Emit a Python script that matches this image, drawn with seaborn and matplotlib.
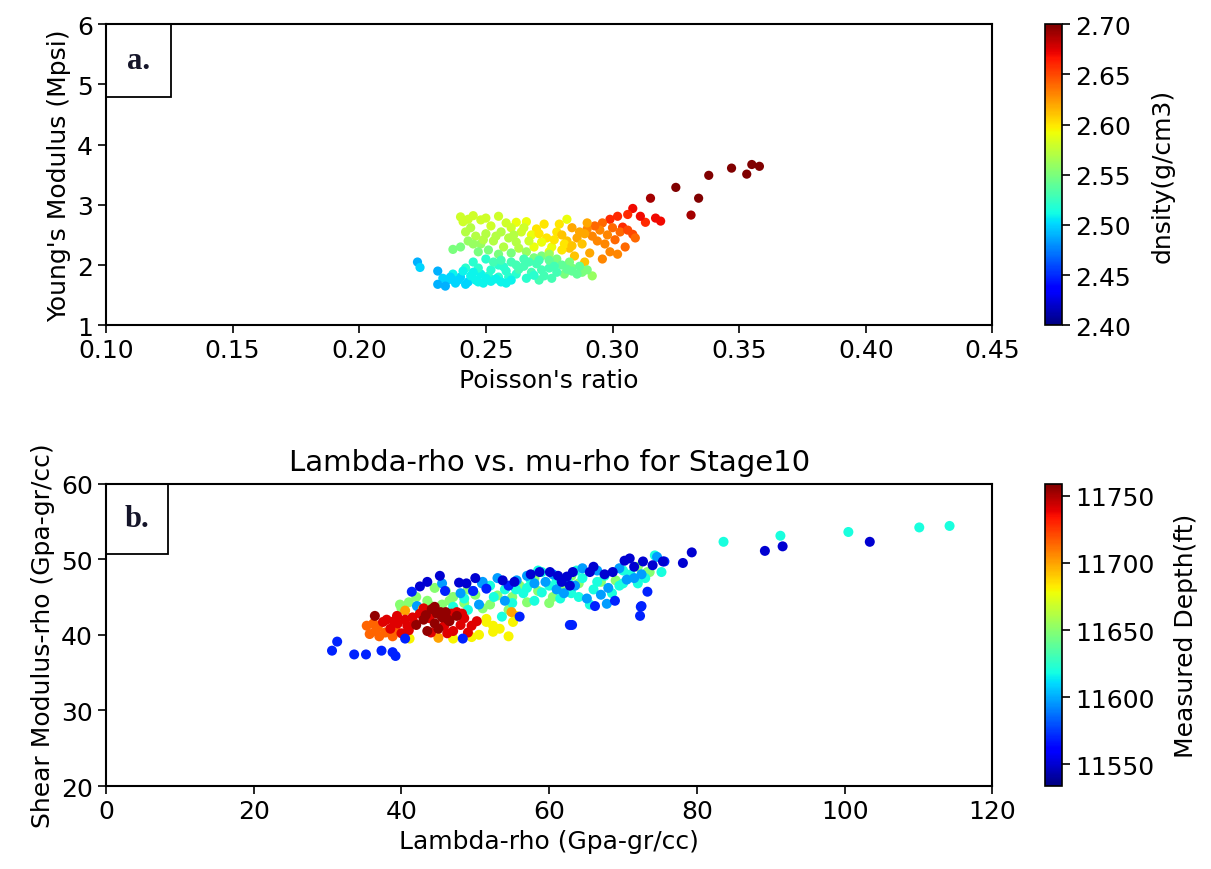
import matplotlib
matplotlib.use("Agg")
import matplotlib.pyplot as plt
import matplotlib.patches as mpatches
import numpy as np
import pandas as pd
import seaborn as sns

# ---------------- Panel a data: Poisson's ratio, Young's modulus, density ----------------
pr_a = [0.358, 0.355, 0.353, 0.347, 0.338, 0.334, 0.331, 0.325, 0.315,
        0.319, 0.317, 0.313, 0.311, 0.308, 0.306, 0.302, 0.299, 0.308, 0.304,
        0.296, 0.300, 0.303, 0.298, 0.301, 0.295, 0.293, 0.290, 0.292, 0.297, 0.305, 0.299, 0.294, 0.289, 0.306, 0.309, 0.302, 0.296,
        0.284, 0.286, 0.288, 0.283, 0.287, 0.285, 0.289, 0.291, 0.282, 0.290,
        0.270, 0.274, 0.278, 0.281, 0.276, 0.272, 0.268, 0.279, 0.282, 0.266, 0.262, 0.275, 0.280,
        0.271, 0.277, 0.273, 0.280, 0.284, 0.269,
        0.240, 0.243, 0.245, 0.248, 0.255, 0.242, 0.246, 0.250, 0.253, 0.256, 0.259, 0.262, 0.264, 0.260, 0.252, 0.257, 0.248, 0.263, 0.267, 0.244,
        0.241, 0.250, 0.258, 0.254, 0.249, 0.261, 0.245, 0.265,
        0.237, 0.240, 0.243, 0.247, 0.251, 0.255, 0.260, 0.266, 0.272, 0.278, 0.284, 0.288, 0.292, 0.281,
        0.275, 0.283, 0.269, 0.290,
        0.245, 0.250, 0.255, 0.260, 0.265, 0.270, 0.275, 0.280, 0.258, 0.262, 0.268, 0.273, 0.278, 0.284, 0.252, 0.248, 0.255, 0.266, 0.271, 0.276, 0.242, 0.287, 0.265, 0.275,
        0.247, 0.253, 0.257, 0.263, 0.267, 0.272, 0.277, 0.282, 0.286, 0.269, 0.259, 0.251, 0.262, 0.256, 0.271,
        0.235, 0.238, 0.240, 0.243, 0.246, 0.249, 0.252, 0.237, 0.241, 0.244, 0.250, 0.256, 0.260, 0.233,
        0.239, 0.242, 0.247, 0.254, 0.258, 0.245, 0.236,
        0.223, 0.224, 0.231, 0.231, 0.234]
ym_a = [3.64, 3.67, 3.51, 3.61, 3.49, 3.11, 2.83, 3.29, 3.11,
        2.73, 2.78, 2.71, 2.81, 2.94, 2.84, 2.81, 2.76, 2.51, 2.63,
        2.70, 2.62, 2.55, 2.50, 2.42, 2.58, 2.65, 2.60, 2.48, 2.35, 2.30, 2.22, 2.40, 2.52, 2.58, 2.45, 2.18, 2.10,
        2.62, 2.45, 2.35, 2.28, 2.55, 2.15, 2.05, 2.20, 2.40, 2.70,
        2.60, 2.45, 2.55, 2.35, 2.30, 2.38, 2.50, 2.68, 2.76, 2.72, 2.71, 2.22, 2.25,
        2.52, 2.42, 2.68, 2.50, 2.32, 2.30,
        2.80, 2.76, 2.82, 2.75, 2.81, 2.55, 2.48, 2.52, 2.40, 2.55, 2.45, 2.38, 2.55, 2.62, 2.65, 2.30, 2.35, 2.28, 2.40, 2.62,
        2.72, 2.78, 2.70, 2.48, 2.42, 2.50, 2.35, 2.62,
        2.26, 2.30, 2.40, 2.22, 2.25, 2.18, 2.20, 2.22, 2.15, 2.10, 1.95, 1.88, 1.82, 1.85,
        2.18, 2.05, 2.12, 1.92,
        2.05, 2.10, 2.00, 2.05, 1.98, 2.02, 1.95, 2.00, 1.90, 1.85, 1.88, 1.82, 1.88, 1.90, 1.92, 1.85, 1.80, 1.78, 1.75, 1.78, 1.95, 1.98, 2.10, 2.08,
        1.95, 2.05, 1.97, 1.93, 2.05, 1.92, 1.98, 1.93, 1.85, 1.83, 1.80, 1.82, 2.00, 2.08, 2.08,
        1.75, 1.70, 1.80, 1.72, 1.75, 1.70, 1.73, 1.85, 1.90, 1.82, 1.78, 1.72, 1.75, 1.78,
        1.75, 1.68, 1.72, 1.77, 1.70, 1.88, 1.80,
        2.05, 1.96, 1.90, 1.68, 1.65]
rho_a = [2.70, 2.70, 2.70, 2.70, 2.70, 2.70, 2.69, 2.70, 2.69,
         2.67, 2.67, 2.66, 2.67, 2.67, 2.66, 2.66, 2.66, 2.65, 2.66,
         2.64, 2.64, 2.64, 2.63, 2.64, 2.63, 2.64, 2.63, 2.63, 2.63, 2.64, 2.63, 2.63, 2.62, 2.65, 2.64, 2.63, 2.63,
         2.62, 2.62, 2.61, 2.61, 2.62, 2.61, 2.61, 2.62, 2.61, 2.62,
         2.60, 2.60, 2.60, 2.60, 2.59, 2.59, 2.59, 2.60, 2.59, 2.59, 2.59, 2.59, 2.60,
         2.60, 2.60, 2.60, 2.61, 2.61, 2.59,
         2.58, 2.58, 2.58, 2.58, 2.58, 2.57, 2.57, 2.57, 2.57, 2.57, 2.57, 2.57, 2.58, 2.58, 2.58, 2.57, 2.56, 2.57, 2.58, 2.57,
         2.58, 2.58, 2.58, 2.57, 2.57, 2.57, 2.56, 2.58,
         2.55, 2.55, 2.56, 2.55, 2.55, 2.55, 2.55, 2.56, 2.55, 2.55, 2.55, 2.55, 2.56, 2.55,
         2.56, 2.55, 2.55, 2.55,
         2.52, 2.52, 2.52, 2.53, 2.53, 2.53, 2.53, 2.54, 2.52, 2.52, 2.53, 2.53, 2.53, 2.54, 2.52, 2.51, 2.52, 2.52, 2.53, 2.53, 2.52, 2.54, 2.53, 2.54,
         2.52, 2.53, 2.52, 2.53, 2.53, 2.53, 2.53, 2.54, 2.54, 2.52, 2.52, 2.52, 2.53, 2.53, 2.53,
         2.50, 2.50, 2.50, 2.50, 2.51, 2.51, 2.51, 2.51, 2.51, 2.51, 2.51, 2.51, 2.51, 2.50,
         2.50, 2.50, 2.51, 2.51, 2.51, 2.51, 2.50,
         2.49, 2.50, 2.49, 2.49, 2.49]

# ---------------- Panel b data: Lambda-rho, mu-rho, measured depth ----------------
lr_b = [40.0, 41.0, 42.0, 39.8, 43.5, 45.5, 47.0, 48.5, 50.0, 52.0, 53.0, 55.0, 57.0, 58.5, 60.5, 62.0, 73.6, 73.3, 69.0, 46.0, 51.0, 44.5, 56.0, 64.0, 67.0,
        44.0, 46.5, 49.0, 54.5, 58.0, 63.0, 72.0, 42.5, 60.0,
        59.0, 63.7, 74.3, 75.2, 58.5, 52.0, 54.0, 56.5, 58.0, 60.0, 61.5, 63.0, 64.5, 66.0, 67.5, 69.5, 71.0, 72.0, 53.6, 47.0, 49.0, 55.0, 65.5, 57.5, 62.5, 70.0, 83.6, 100.5, 91.3, 110.1, 114.2,
        57.0, 59.0, 61.0, 64.0, 66.5, 68.5, 70.0, 73.0, 52.5, 55.5, 48.5,
        50.9, 51.0, 55.6, 57.0, 59.5, 61.0, 63.5, 66.5, 68.0, 70.5, 72.5, 65.1, 67.8, 49.7, 74.6, 42.1, 48.0, 45.5, 53.0,
        58.0, 60.5, 62.0, 64.5, 67.0, 69.5, 71.5, 54.0, 50.5,
        41.1, 42.9, 51.5, 52.4, 51.5, 52.4, 53.3, 55.1, 50.5, 49.5, 47.0, 54.5, 55.5,
        54.9, 45.0, 40.5,
        35.3, 35.7, 36.5, 37.0, 36.2, 37.8, 38.8, 39.2, 36.8,
        39.4, 37.5, 38.5, 39.5, 40.5, 41.0, 41.5, 42.5, 40.0, 47.0, 48.0, 48.5, 49.5, 49.0, 47.5, 46.2, 38.0, 43.0, 50.2,
        41.8, 43.8, 46.8, 44.0, 45.8, 48.2, 40.8, 39.0,
        36.4, 44.1, 43.0, 44.5, 45.5, 46.5, 42.0, 45.0, 47.5, 46.0, 43.5, 44.8,
        44.5, 45.3, 46.3, 43.3,
        30.6, 31.3, 33.6, 35.2, 37.3, 38.8, 39.2, 40.5, 48.3, 63.1, 62.8, 56.0, 66.2, 68.9, 73.3, 72.4, 72.3, 72.5, 51.5, 49.7, 54.5, 45.9, 41.4, 75.6,
        42.5, 43.5, 45.2, 47.8, 48.8, 53.7, 55.3, 60.1, 61.2, 62.4, 61.7, 62.8, 65.5, 68.6, 70.2, 70.9, 72.7, 75.4, 78.1, 79.3, 89.2, 91.6, 103.4, 58.7, 63.2,
        66.0, 67.5, 71.5, 74.0, 57.5, 50.0]
mr_b = [43.5, 44.3, 45.0, 44.0, 44.5, 44.0, 45.0, 44.2, 45.3, 44.0, 45.2, 45.0, 44.3, 45.8, 45.0, 46.2, 48.3, 48.3, 47.2, 45.8, 43.5, 46.2, 46.5, 46.8, 47.0,
        43.8, 44.5, 46.0, 43.3, 47.5, 47.8, 49.0, 43.3, 44.2,
        48.3, 48.5, 50.5, 48.3, 48.5, 46.5, 46.0, 45.5, 44.5, 46.5, 44.8, 45.5, 47.5, 46.0, 47.8, 46.5, 48.0, 46.8, 42.4, 43.7, 43.3, 44.2, 44.0, 47.2, 47.0, 48.5, 52.3, 53.6, 53.1, 54.2, 54.4,
        46.2, 45.6, 47.2, 45.0, 47.0, 45.5, 46.8, 47.5, 45.0, 46.0, 44.8,
        46.8, 47.0, 47.2, 47.8, 47.0, 46.0, 46.5, 48.5, 46.2, 47.3, 48.0, 44.8, 44.1, 45.8, 50.3, 43.8, 45.5, 46.8, 47.5,
        46.8, 48.0, 45.5, 48.8, 45.3, 48.8, 47.5, 44.5, 44.0,
        39.5, 43.4, 41.7, 40.4, 42.1, 41.2, 40.8, 41.7, 40.0, 39.7, 39.5, 39.8, 42.5,
        43.0, 39.6, 43.2,
        41.2, 40.1, 40.5, 39.8, 41.5, 40.3, 39.8, 40.6, 41.0,
        42.5, 41.7, 40.8, 41.5, 42.0, 40.6, 42.3, 42.8, 40.2, 40.5, 41.3, 42.2, 41.2, 40.3, 43.0, 40.2, 42.0, 43.5, 41.8,
        41.5, 42.2, 42.8, 40.3, 41.2, 42.8, 41.2, 41.8,
        42.5, 43.4, 42.0, 41.5, 42.3, 41.8, 41.3, 40.8, 42.5, 43.0, 40.5, 42.8,
        43.7, 43.0, 42.0, 42.6,
        37.9, 39.1, 37.4, 37.4, 37.9, 37.7, 37.2, 39.5, 39.5, 41.3, 41.3, 42.4, 43.8, 44.5, 45.7, 43.7, 42.5, 43.8, 46.1, 45.8, 46.5, 45.8, 45.7, 49.7,
        46.4, 47.0, 47.8, 46.9, 46.8, 47.2, 47.0, 48.3, 47.8, 47.7, 47.0, 46.5, 48.3, 48.3, 49.8, 50.1, 49.7, 49.7, 49.5, 50.9, 51.1, 51.7, 52.3, 48.3, 48.3,
        49.0, 48.0, 49.0, 49.2, 48.0, 47.5]
md_b = [11650] * 34 + [11620] * 42 + [11597] * 28 + [11680] * 13 + [11700] * 3 + \
       [11715] * 9 + [11740] * 27 + [11755] * 16 + [11570] * 24 + [11550] * 31

dfa = pd.DataFrame({"pr": pr_a, "ym": ym_a, "rho": rho_a})
dfb = pd.DataFrame({"lr": lr_b, "mr": mr_b, "md": md_b})

sns.set_theme(style="ticks")
plt.rcParams["font.family"] = ["DejaVu Sans"]
for k in ("axes.edgecolor", "xtick.color", "ytick.color", "text.color", "axes.labelcolor"):
    plt.rcParams[k] = "black"

jet = matplotlib.colormaps["jet"]
FS = 18

fig = plt.figure(figsize=(12.11, 8.7), dpi=100)
ax1 = fig.add_axes([0.0875, 0.625, 0.732, 0.346])
cax1 = fig.add_axes([0.863, 0.625, 0.014, 0.346])
ax2 = fig.add_axes([0.0875, 0.0954, 0.732, 0.3476])
cax2 = fig.add_axes([0.863, 0.0954, 0.014, 0.3476])

norm_a = matplotlib.colors.Normalize(2.40, 2.70)
norm_b = matplotlib.colors.Normalize(11534, 11759)

sns.scatterplot(data=dfa, x="pr", y="ym", hue="rho", palette=jet, hue_norm=norm_a,
                s=44, linewidth=0, legend=False, ax=ax1)
sns.scatterplot(data=dfb, x="lr", y="mr", hue="md", palette=jet, hue_norm=norm_b,
                s=52, linewidth=0, legend=False, ax=ax2)

ax1.set_xlim(0.10, 0.45)
ax1.set_ylim(1, 6)
ax1.set_xticks(np.arange(0.10, 0.451, 0.05))
ax1.set_xticklabels(["0.10", "0.15", "0.20", "0.25", "0.30", "0.35", "0.40", "0.45"])
ax1.set_yticks([1, 2, 3, 4, 5, 6])
ax1.set_xlabel("Poisson's ratio", fontsize=FS)
ax1.set_ylabel("Young's Modulus (Mpsi)", fontsize=FS)

ax2.set_xlim(0, 120)
ax2.set_ylim(20, 60)
ax2.set_xticks([0, 20, 40, 60, 80, 100, 120])
ax2.set_yticks([20, 30, 40, 50, 60])
ax2.set_xlabel("Lambda-rho (Gpa-gr/cc)", fontsize=FS)
ax2.set_ylabel("Shear Modulus-rho (Gpa-gr/cc)", fontsize=FS)
ax2.set_title("Lambda-rho vs. mu-rho for Stage10", fontsize=21, pad=10)

for ax in (ax1, ax2):
    ax.tick_params(labelsize=FS, length=6, width=1.2)
    for sp in ax.spines.values():
        sp.set_visible(True)
        sp.set_linewidth(1.5)

sm_a = matplotlib.cm.ScalarMappable(norm=norm_a, cmap=jet)
cb1 = fig.colorbar(sm_a, cax=cax1)
cb1.set_ticks([2.40, 2.45, 2.50, 2.55, 2.60, 2.65, 2.70])
cb1.set_ticklabels(["2.40", "2.45", "2.50", "2.55", "2.60", "2.65", "2.70"])
cb1.set_label("dnsity(g/cm3)", fontsize=FS, labelpad=14)

sm_b = matplotlib.cm.ScalarMappable(norm=norm_b, cmap=jet)
cb2 = fig.colorbar(sm_b, cax=cax2)
cb2.set_ticks([11550, 11600, 11650, 11700, 11750])
cb2.set_label("Measured Depth(ft)", fontsize=FS, labelpad=14)

for cb in (cb1, cb2):
    cb.ax.tick_params(labelsize=FS, length=6, width=1.2)
    cb.outline.set_linewidth(1.2)

# panel labels in boxes
for ax, lab, w, h in ((ax1, "a.", 0.073, 0.243), (ax2, "b.", 0.070, 0.232)):
    rect = mpatches.Rectangle((0, 1 - h), w, h, transform=ax.transAxes, fill=False,
                              edgecolor="black", linewidth=1.3, zorder=5)
    ax.add_patch(rect)
    ax.text(w / 2, 1 - h / 2, lab, transform=ax.transAxes, ha="center", va="center",
            fontsize=22, fontweight="bold", family=["Liberation Serif", "DejaVu Serif"],
            color="#15152a", zorder=6)

fig.savefig("out.png", dpi=100)
